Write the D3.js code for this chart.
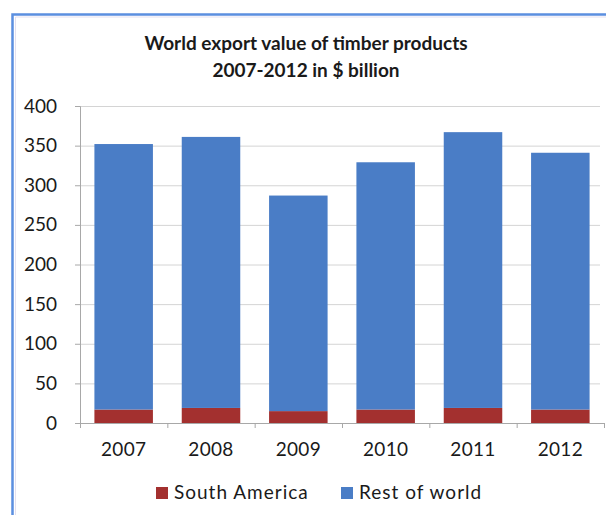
<!DOCTYPE html>
<html>
<head>
<meta charset="utf-8">
<script src="https://cdn.jsdelivr.net/npm/d3@7"></script>
<style>
  body { margin: 0; background: #fff; }
  text { font-family: Lato, "Open Sans", sans-serif; fill: #1a1a1a; }
</style>
</head>
<body>
<div id="chart"></div>
<script>
var years = ["2007", "2008", "2009", "2010", "2011", "2012"];
var southAmerica = [17, 19, 15, 17, 19, 17];
var restOfWorld = [335, 342, 272, 312, 348, 324];
var yTicks = [0, 50, 100, 150, 200, 250, 300, 350, 400];
var seriesNames = ["South America", "Rest of world"];
var colors = ["#a3302f", "#4a7dc6"];

var width = 606, height = 515;
var margin = {top: 106, right: 5, bottom: 92, left: 80};

var svg = d3.select("#chart").append("svg")
    .attr("width", width)
    .attr("height", height);

// frame
svg.append("path")
    .attr("d", "M12.5,515 V14.5 H606")
    .attr("fill", "none")
    .attr("stroke", "#5b8fe0")
    .attr("stroke-width", 2.5);
svg.append("path")
    .attr("d", "M15.5,515 V17 H606")
    .attr("fill", "none")
    .attr("stroke", "#e4e0f0")
    .attr("stroke-width", 1);

var rows = years.map(function(y, i) {
  return {year: y, sa: southAmerica[i], rest: restOfWorld[i]};
});
var stack = d3.stack().keys(["sa", "rest"])(rows);

var x = d3.scaleBand()
    .domain(years)
    .range([margin.left, width - margin.right + 3])
    .paddingInner(0.33)
    .paddingOuter(0.165);

var y = d3.scaleLinear()
    .domain([0, 400])
    .range([height - margin.bottom, margin.top]);

// gridlines
svg.append("g")
  .selectAll("line")
  .data(yTicks.slice(1))
  .join("line")
    .attr("x1", margin.left)
    .attr("x2", 600)
    .attr("y1", function(d) { return y(d) + 0.5; })
    .attr("y2", function(d) { return y(d) + 0.5; })
    .attr("stroke", "#d4d4d4");

// bars
svg.append("g")
  .selectAll("g")
  .data(stack)
  .join("g")
    .attr("fill", function(d, i) { return colors[i]; })
  .selectAll("rect")
  .data(function(d) { return d; })
  .join("rect")
    .attr("x", function(d) { return x(d.data.year); })
    .attr("y", function(d) { return y(d[1]); })
    .attr("height", function(d) { return y(d[0]) - y(d[1]); })
    .attr("width", x.bandwidth());

// y axis
var yAxis = svg.append("g")
    .attr("transform", "translate(" + margin.left + ",0)")
    .call(d3.axisLeft(y).tickValues(yTicks).tickSize(5).tickPadding(18));
yAxis.select(".domain").attr("stroke", "#a8a8a8");
yAxis.selectAll(".tick line").attr("stroke", "#a8a8a8");
yAxis.selectAll("text").attr("font-size", 19).attr("fill", "#1a1a1a");

// x axis
var xAxis = svg.append("g")
    .attr("transform", "translate(0," + y(0) + ")")
    .call(d3.axisBottom(x).tickSize(0).tickPadding(20));
xAxis.select(".domain").attr("stroke", "#a8a8a8");
xAxis.selectAll("text").attr("font-size", 19).attr("fill", "#1a1a1a")
    .attr("letter-spacing", 0.3);

// tick marks between categories
var step = x.step();
svg.append("g")
  .selectAll("line")
  .data(d3.range(years.length + 1))
  .join("line")
    .attr("x1", function(i) { return margin.left + i * step + 0.5; })
    .attr("x2", function(i) { return margin.left + i * step + 0.5; })
    .attr("y1", y(0))
    .attr("y2", y(0) + 5)
    .attr("stroke", "#a8a8a8");

// title
var title = svg.append("text")
    .attr("text-anchor", "middle")
    .attr("font-size", 19)
    .attr("font-weight", "bold");
title.append("tspan").attr("x", 306).attr("y", 50).text("World export value of timber products");
title.append("tspan").attr("x", 306).attr("y", 77).text("2007-2012 in $ billion");

// legend
var legendX = [156, 341];
var legend = svg.append("g")
  .selectAll("g")
  .data(seriesNames)
  .join("g")
    .attr("transform", function(d, i) { return "translate(" + legendX[i] + ",487)"; });
legend.append("rect")
    .attr("width", 12)
    .attr("height", 12)
    .attr("fill", function(d, i) { return colors[i]; });
legend.append("text")
    .attr("x", 18)
    .attr("y", 12)
    .attr("font-size", 19)
    .attr("letter-spacing", 1)
    .text(function(d) { return d; });
</script>
</body>
</html>
